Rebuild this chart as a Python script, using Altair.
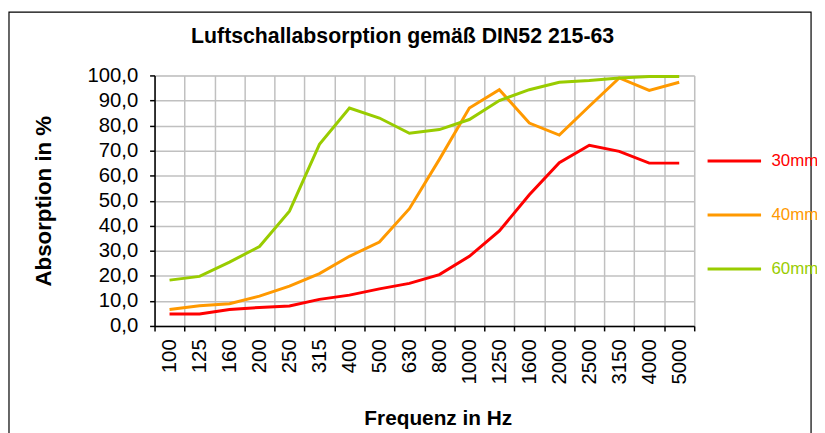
import altair as alt
import pandas as pd

freqs = ["100", "125", "160", "200", "250", "315", "400", "500", "630", "800",
         "1000", "1250", "1600", "2000", "2500", "3150", "4000", "5000"]
abs_30 = [4.8, 4.8, 6.6, 7.4, 8.0, 10.6, 12.3, 14.8, 17.0, 20.5,
          27.8, 37.9, 52.4, 65.2, 72.1, 69.7, 65.0, 65.0]
abs_40 = [6.6, 8.1, 8.9, 11.9, 15.9, 20.9, 27.8, 33.5, 46.8, 66.5,
          87.0, 94.3, 81.0, 76.2, 87.7, 99.0, 94.0, 97.3]
abs_60 = [18.3, 19.8, 25.5, 31.7, 45.8, 72.5, 87.0, 83.0, 76.9, 78.4,
          82.4, 90.0, 94.3, 97.3, 98.0, 99.0, 99.6, 99.6]
series = ["30mm", "40mm", "60mm"]
colors = ["#ff0000", "#ff9900", "#99cc00"]

rows = []
for name, vals in zip(series, [abs_30, abs_40, abs_60]):
    for f, v in zip(freqs, vals):
        rows.append({"Frequenz": f, "Absorption": v, "Serie": name})
df = pd.DataFrame(rows)

FONT = "Liberation Sans"
W, H = 545, 253

lines = alt.Chart(df).mark_line(strokeWidth=3, clip=False).encode(
    x=alt.X("Frequenz:N", sort=freqs, bandPosition=0.5,
            scale=alt.Scale(type="band", paddingInner=0, paddingOuter=0),
            axis=alt.Axis(title="Frequenz in Hz", labelAngle=-90, labelAlign="right",
                          labelBaseline="middle", labelPadding=8,
                          tickBand="extent", grid=True, gridColor="#c0c0c0", gridWidth=1.5,
                          domainColor="black", domainWidth=1.5, tickColor="black",
                          tickWidth=1.5, tickSize=5,
                          labelFont=FONT, labelFontSize=20.5, labelColor="black",
                          titleFont=FONT, titleFontSize=21, titleFontWeight="bold",
                          titleColor="black", titlePadding=24, titleX=286)),
    y=alt.Y("Absorption:Q",
            scale=alt.Scale(domain=[0, 100], nice=False),
            axis=alt.Axis(title="Absorption in %", values=list(range(0, 101, 10)),
                          labelExpr="replace(format(datum.value, '.1f'), '.', ',')",
                          grid=True, gridColor="#c0c0c0", gridWidth=1.5,
                          domainColor="black", domainWidth=1.5, tickColor="black",
                          tickWidth=1.5, tickSize=5, labelPadding=12,
                          labelFont=FONT, labelFontSize=20.5, labelColor="black",
                          titleFont=FONT, titleFontSize=22.5, titleFontWeight="bold",
                          titleColor="black", titlePadding=32)),
    color=alt.Color("Serie:N",
                    scale=alt.Scale(domain=series, range=colors),
                    legend=alt.Legend(title=None, orient="none", legendX=557, legendY=58,
                                      symbolType="stroke", symbolSize=2916,
                                      symbolStrokeWidth=3, rowPadding=17.5, padding=0,
                                      labelOffset=9, labelFont=FONT, labelFontSize=17,
                                      labelColor={"expr": "datum.label == '30mm' ? '#ff0000' : datum.label == '40mm' ? '#ff9900' : '#99cc00'"})),
)

border = alt.Chart(pd.DataFrame({"k": [0]})).mark_rect(
    fill=None, stroke="black", strokeWidth=1.2, clip=False
).encode(
    x=alt.value(-147), x2=alt.value(663), y=alt.value(-64), y2=alt.value(362)
)

chart = alt.layer(border, lines).properties(
    width=W, height=H,
    autosize=alt.AutoSizeParams(type="none"),
    padding={"left": 148, "top": 66, "right": 124, "bottom": 106},
    title=alt.TitleParams("Luftschallabsorption gemäß DIN52 215-63", font=FONT,
                          fontSize=21.5, fontWeight="bold", color="black",
                          anchor="middle", dx=-22, offset=0, dy=36),
).configure_view(stroke="#808080", strokeWidth=1.5).configure(background="white")

chart.save("out.html", embed_options={"renderer": "svg", "actions": False})
